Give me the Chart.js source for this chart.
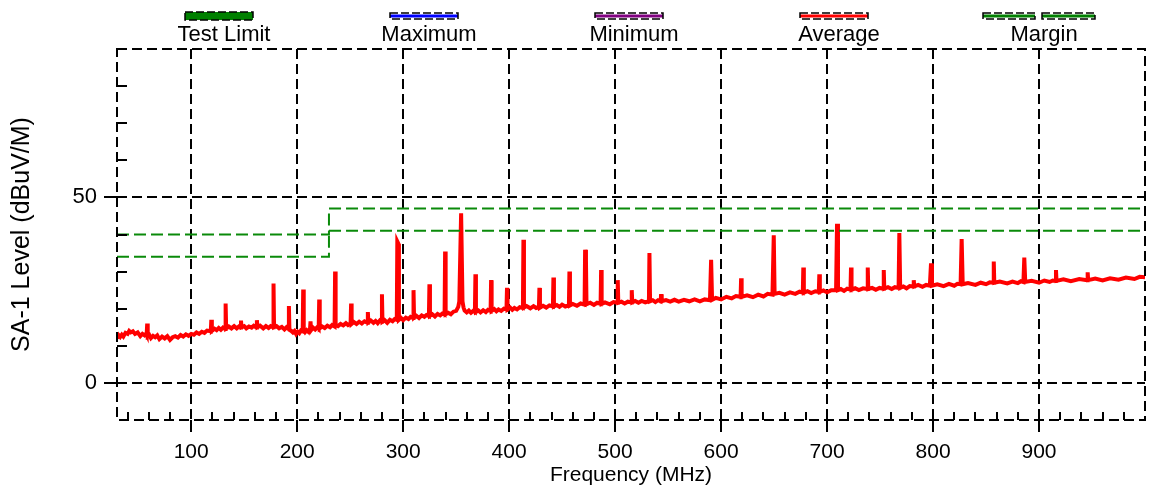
<!DOCTYPE html>
<html>
<head>
<meta charset="utf-8">
<script src="https://cdn.jsdelivr.net/npm/chart.js@4.4.1/dist/chart.umd.min.js"></script>
<style>
  html, body { margin: 0; padding: 0; background: #fff; }
  #wrap { width: 1152px; height: 489px; }
</style>
</head>
<body>
<div id="wrap"><canvas id="emi" width="1152" height="489"></canvas></div>
<script>
// Average trace (MHz / dBuV/M), one row per stretch of spectrum
const freqMHz = [
	30, 31.5, 33, 34.5, 36, 38, 40, 41.5, 43, 45, 47, 49.5, 52, 54, 56, 57.5, 58, 58.5, 59, 60.5, 62,
	64, 66, 68, 70, 72.5, 75, 77.5, 80, 82.5, 85, 87.5, 90, 92.5, 95, 97.5, 100, 102.5, 105, 107.5, 110, 112.5, 115, 118.5,
	119, 119.5, 122, 124, 126, 128, 130, 132, 132.5, 133, 135.5, 138, 140.5, 143, 145, 146.5, 147, 147.5,
	150, 152, 154.5, 157, 159, 161.5, 162, 162.5, 165, 168, 170.5, 173, 175, 177.2, 177.7, 178.2,
	180.5, 183, 185.5, 188, 190, 191.7, 192.2, 192.7, 194.5, 196, 197.5, 199, 200.5, 202, 203.5, 205.2, 205.7, 206.2, 207.5, 209, 210.5, 212.1, 212.6, 213.1,
	215, 217, 219, 220.3, 220.8, 221.3, 223.5, 226, 228.5, 231, 233, 235.3, 235.8, 236.3, 238.5, 241, 243.5, 246, 248, 250.4, 250.9, 251.4,
	253.5, 256, 258.5, 261, 263.5, 266.2, 266.7, 267.2, 269.5, 272, 274, 276, 278, 279.5, 280, 280.5, 282.5, 285, 287.5, 290, 292, 294, 294.5, 295.5, 296,
	298, 300, 302.5, 305, 307, 309.3, 309.8, 310.3, 312.5, 315, 317.5, 320, 322, 324.3, 324.8, 325.3, 327.5, 330, 332.5, 335, 337, 339.1, 339.6, 340.1,
	342.5, 345, 347.5, 350, 352, 353, 354.7, 356, 357, 358, 360, 362, 364, 366, 367.7, 368.2, 368.7,
	371, 373, 375.5, 378, 380, 382.5, 383, 383.5, 386, 388, 390, 392.5, 395, 397.5, 398, 398.5, 401, 403, 405, 407.5, 410, 413, 413.5, 414,
	416.5, 420, 423, 425.5, 428.1, 428.6, 429.1, 432, 435, 438, 441.3, 441.8, 442.3, 445, 447.5, 450, 453, 456.4, 456.9, 457.4,
	460, 464, 467.5, 471.2, 471.7, 472.5, 473, 476.5, 480, 483, 486.3, 486.8, 487.3, 490.5, 495, 498.5, 502, 502.5, 503,
	506, 509, 512, 515.2, 515.7, 516.2, 519, 522, 525, 528.5, 531.9, 532.4, 533, 535.5, 538, 540.5, 543, 543.4, 544,
	548, 552, 556, 560, 565, 570, 575, 580, 584.5, 589.5, 590.6, 591.5,
	595, 600, 605, 610, 614, 618.4, 618.9, 619.4, 624.5, 630, 635, 640, 644, 648.5, 649.7, 650.5,
	655, 660, 665, 670, 674, 677.1, 677.6, 678.1, 681.5, 685, 689, 692.2, 692.7, 693.2, 696.5, 700, 704, 708.5, 709.4, 710.3,
	713, 716, 719, 722.1, 722.6, 723.1, 726.5, 730, 734, 737.9, 738.4, 738.9, 742.5, 746, 749.5, 753, 753.5, 754,
	757.5, 761, 764, 767.5, 768.2, 769, 772, 775, 778, 781.3, 781.8, 782.3, 786, 790, 793.5, 797, 798.1, 799,
	804, 810, 815, 820, 823, 826, 827, 828, 833, 840, 845, 850, 853.5, 856.8, 857.3, 857.8,
	863, 870, 875, 880, 883, 885.3, 886.1, 887, 893, 900, 905, 910, 913, 915.5, 916, 916.5,
	923, 930, 938, 945.4, 945.9, 946.4, 953, 960, 967, 975, 982, 990, 995, 1000
];
const avgLevel = [
	12.0, 12.9, 12.4, 13.0, 12.5, 13.5, 13.2, 14.0, 13.6, 13.9, 13.2, 13.6, 12.6, 13.2, 12.8, 13.3, 13.0, 16.0, 12.6, 12.9, 12.1,
	12.7, 12.3, 12.8, 11.8, 12.5, 12.0, 12.6, 11.6, 12.3, 12.6, 12.2, 12.9, 12.5, 13.1, 12.7, 13.2, 13.0, 13.6, 13.2, 13.8, 13.5, 14.1, 13.9,
	17.0, 14.0, 14.6, 14.2, 14.8, 14.3, 14.9, 14.5, 21.4, 14.7, 15.2, 14.7, 15.3, 14.7, 15.2, 14.9, 16.8, 15.0,
	15.3, 14.7, 15.2, 14.9, 15.4, 14.9, 16.9, 15.0, 15.4, 14.7, 15.3, 14.8, 15.3, 15.0, 26.8, 15.0,
	15.3, 14.7, 15.1, 14.4, 15.0, 14.6, 20.7, 14.3, 14.0, 13.6, 14.0, 13.2, 13.8, 13.4, 14.1, 13.9, 25.2, 14.3, 13.7, 14.2, 13.8, 14.5, 16.6, 14.2,
	14.9, 14.4, 15.0, 14.6, 22.5, 14.7, 15.2, 14.8, 15.4, 15.0, 15.6, 15.2, 30.0, 15.6, 15.3, 15.9, 15.5, 16.1, 15.6, 16.0, 21.4, 15.9,
	16.4, 15.9, 16.5, 16.0, 16.6, 16.2, 19.1, 16.3, 16.8, 16.2, 16.7, 16.1, 16.8, 16.5, 23.9, 16.5, 16.9, 16.2, 17.0, 16.6, 17.2, 17.0, 38.1, 37.5, 17.0,
	17.5, 16.9, 17.6, 17.2, 17.8, 17.5, 25.0, 17.6, 18.1, 17.5, 18.2, 17.8, 18.3, 18.0, 26.6, 18.1, 18.5, 17.9, 18.6, 18.2, 18.7, 18.4, 35.4, 18.5,
	18.9, 18.5, 19.2, 19.4, 20.5, 22.0, 45.7, 22.0, 20.3, 19.5, 19.0, 19.5, 18.9, 19.4, 19.1, 29.3, 19.1,
	19.5, 19.0, 19.6, 19.1, 19.7, 19.4, 27.7, 19.4, 19.9, 19.3, 19.8, 19.4, 20.0, 19.8, 25.6, 19.8, 20.3, 19.7, 20.2, 19.8, 20.4, 20.2, 38.6, 20.3,
	20.7, 20.1, 20.7, 20.2, 20.4, 25.6, 20.3, 20.8, 20.3, 20.9, 20.6, 28.4, 20.6, 21.0, 20.5, 21.1, 20.6, 20.9, 30.0, 20.9,
	21.3, 20.8, 21.4, 21.1, 35.9, 33.0, 21.2, 21.6, 21.0, 21.6, 21.3, 30.4, 21.3, 21.7, 21.2, 21.8, 21.6, 27.7, 21.6,
	21.9, 21.4, 21.9, 21.7, 25.0, 21.7, 22.1, 21.6, 22.1, 21.7, 22.0, 35.0, 22.0, 22.3, 21.8, 22.3, 22.0, 23.9, 22.0,
	22.3, 21.9, 22.4, 21.9, 22.4, 22.0, 22.5, 22.0, 22.5, 22.3, 33.2, 22.4,
	22.9, 22.5, 23.2, 22.8, 23.4, 23.2, 28.2, 23.2, 23.6, 23.1, 23.8, 23.3, 24.0, 23.8, 39.8, 24.0,
	24.3, 23.8, 24.4, 24.0, 24.6, 24.3, 31.1, 24.3, 24.7, 24.2, 24.7, 24.5, 29.3, 24.5, 24.9, 24.4, 25.0, 25.0, 42.9, 25.0,
	25.3, 24.8, 25.4, 25.1, 31.1, 25.1, 25.5, 25.0, 25.5, 25.3, 31.1, 25.3, 25.6, 25.1, 25.6, 25.4, 30.4, 25.4,
	25.8, 25.3, 25.8, 25.6, 40.4, 25.6, 26.0, 25.5, 26.1, 26.0, 27.7, 26.0, 26.4, 25.9, 26.4, 26.2, 32.2, 26.2,
	26.6, 26.1, 26.7, 26.2, 26.7, 26.6, 38.8, 26.6, 26.9, 26.4, 27.0, 26.6, 27.1, 27.0, 32.7, 27.0,
	27.3, 26.8, 27.3, 26.9, 27.4, 27.2, 33.8, 27.2, 27.5, 27.0, 27.6, 27.2, 27.6, 27.5, 30.4, 27.5,
	27.9, 27.4, 28.0, 27.7, 29.8, 27.7, 28.1, 27.6, 28.2, 27.8, 28.4, 28.0, 28.6, 28.5
];

// limit and margin steps
const limitFreq = [ 30, 230, 230, 1000 ];
const limitLevel = [ 40, 40, 47, 47 ];
const marginLevel = [ 34, 34, 41, 41 ];

// axes
const xTickValues = [ 100, 200, 300, 400, 500, 600, 700, 800, 900 ];
const yTickValues = [ 0, 50 ];

// legend
const legendLabels = [ 'Test Limit', 'Maximum', 'Minimum', 'Average', 'Margin' ];
const legendColors = [ '#008000', '#0000ff', '#800080', '#ff0000', '#008000' ];

const FONT = 'Liberation Sans, Arial, sans-serif';

function toPoints( xs, ys ) {
	return xs.map( ( x, i ) => ( { x: x, y: ys[ i ] } ) );
}

// dashed frame + minor ticks
const framePlugin = {
	id: 'frame',
	afterDraw( chart ) {
		const ctx = chart.ctx;
		const a = chart.chartArea;
		const xs = chart.scales.x;
		const ys = chart.scales.y;
		ctx.save();
		ctx.strokeStyle = '#000';
		ctx.lineWidth = 2;
		ctx.setLineDash( [ 10, 5 ] );
		ctx.strokeRect( a.left, a.top, a.right - a.left, a.bottom - a.top );
		ctx.setLineDash( [] );
		ctx.beginPath();
		for ( let v = 40; v < 1000; v += 20 ) {
			if ( v % 100 === 0 ) {
				continue;
			}
			const px = Math.round( xs.getPixelForValue( v ) );
			ctx.moveTo( px, a.bottom );
			ctx.lineTo( px, a.bottom - 8 );
		}
		for ( let v = 10; v < 90; v += 10 ) {
			if ( v === 50 ) {
				continue;
			}
			const py = Math.round( ys.getPixelForValue( v ) );
			ctx.moveTo( a.left, py );
			ctx.lineTo( a.left + 10, py );
		}
		ctx.stroke();
		ctx.restore();
	}
};

// legend: swatch above the name
const legendPlugin = {
	id: 'topLegend',
	afterDraw( chart ) {
		const ctx = chart.ctx;
		ctx.save();
		ctx.font = '22px ' + FONT;
		ctx.textAlign = 'center';
		ctx.textBaseline = 'middle';
		legendLabels.forEach( ( label, i ) => {
			const cx = 224 + i * 205;
			const sx = cx - 5;
			ctx.fillStyle = '#000';
			ctx.fillText( label, cx, 35 );
			const segs = i === 4 ? [ [ sx - 56, sx - 4 ], [ sx + 3, sx + 56 ] ] : [ [ sx - 34, sx + 34 ] ];
			segs.forEach( s => {
				ctx.setLineDash( [] );
				ctx.fillStyle = legendColors[ i ];
				if ( i === 0 ) {
					ctx.fillRect( s[ 0 ], 12, s[ 1 ] - s[ 0 ], 8 );
				} else {
					ctx.fillRect( s[ 0 ], 14.5, s[ 1 ] - s[ 0 ], 3 );
				}
				ctx.strokeStyle = '#000';
				ctx.lineWidth = 1.5;
				ctx.setLineDash( [ 8, 3 ] );
				const top = i === 0 ? 12 : 13;
				const bot = i === 0 ? 20 : 19;
				ctx.strokeRect( s[ 0 ], top, s[ 1 ] - s[ 0 ], bot - top );
			} );
		} );
		ctx.restore();
	}
};

const ctx = document.getElementById( 'emi' ).getContext( '2d' );
new Chart( ctx, {
	type: 'line',
	data: {
		datasets: [ {
			label: 'Test Limit',
			data: toPoints( limitFreq, limitLevel ),
			borderColor: '#0a8a0a',
			borderWidth: 2,
			borderDash: [ 12, 5 ],
			pointRadius: 0,
			fill: false
		}, {
			label: 'Margin',
			data: toPoints( limitFreq, marginLevel ),
			borderColor: '#0a8a0a',
			borderWidth: 2,
			borderDash: [ 12, 5 ],
			pointRadius: 0,
			fill: false
		}, {
			label: 'Average',
			data: toPoints( freqMHz, avgLevel ),
			borderColor: '#ff0000',
			borderWidth: 4,
			pointRadius: 0,
			tension: 0,
			fill: false
		} ]
	},
	options: {
		responsive: false,
		animation: false,
		devicePixelRatio: 1,
		layout: { padding: { top: 49, right: 7, left: 0, bottom: 0 } },
		plugins: {
			legend: { display: false },
			tooltip: { enabled: false }
		},
		scales: {
			x: {
				type: 'linear',
				min: 30,
				max: 1000,
				z: 1,
				afterBuildTicks: s => { s.ticks = xTickValues.map( v => ( { value: v } ) ); },
				afterFit: s => { s.height = 69; },
				grid: { color: '#000', lineWidth: 2, tickLength: 12, tickColor: '#000', tickWidth: 2 },
				border: { display: false, dash: [ 10, 5 ] },
				ticks: { color: '#000', font: { family: FONT, size: 21 }, padding: 8, maxRotation: 0, autoSkip: false },
				title: { display: true, text: 'Frequency (MHz)', color: '#000', font: { family: FONT, size: 21 }, padding: { top: 0, bottom: 1 } }
			},
			y: {
				type: 'linear',
				min: -10,
				max: 90,
				z: 1,
				afterBuildTicks: s => { s.ticks = yTickValues.map( v => ( { value: v } ) ); },
				afterFit: s => { s.width = 117; },
				grid: { color: '#000', lineWidth: 2, tickLength: 13, tickColor: '#000', tickWidth: 2 },
				border: { display: false, dash: [ 10, 5 ] },
				ticks: { color: '#000', font: { family: FONT, size: 22 }, padding: 7 },
				title: { display: true, text: 'SA-1 Level (dBuV/M)', color: '#000', font: { family: FONT, size: 25 }, padding: { top: 7, bottom: 0 } }
			}
		}
	},
	plugins: [ framePlugin, legendPlugin ]
} );
</script>
</body>
</html>
